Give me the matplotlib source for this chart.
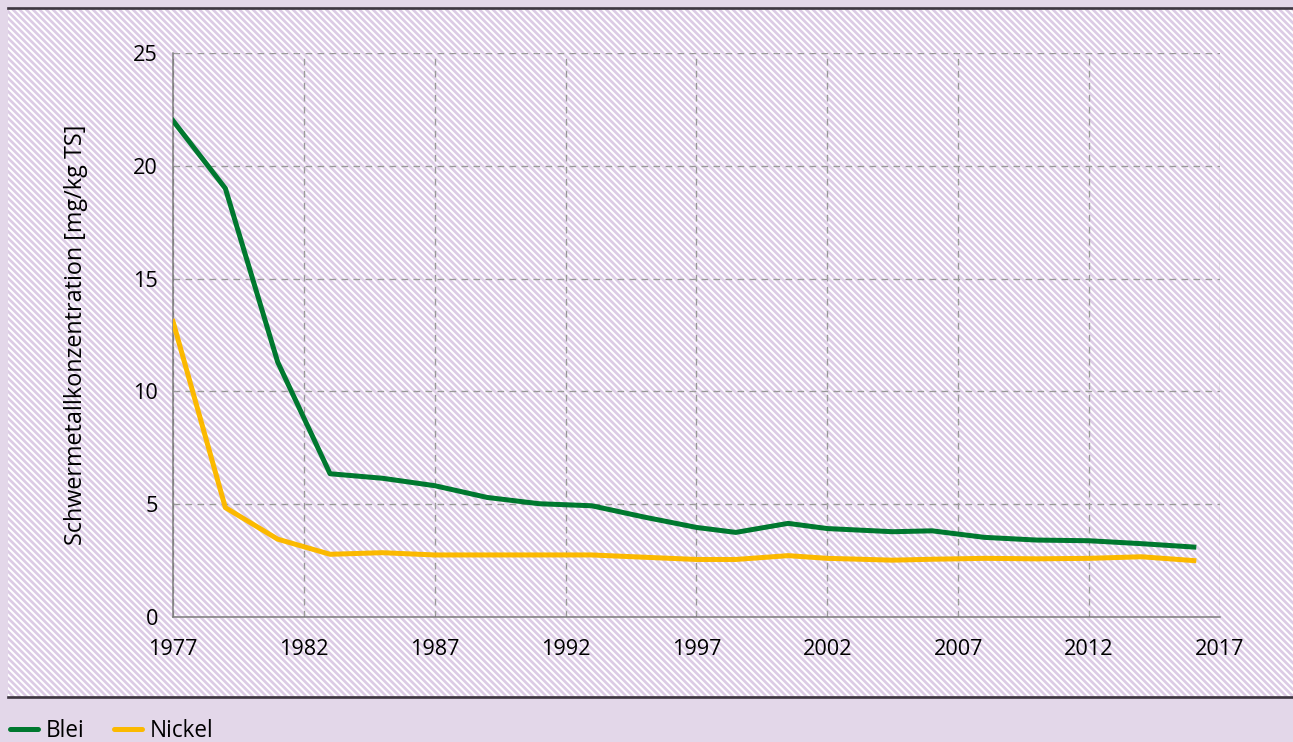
"""
Schwermetallkonzentration (Blei, Nickel) 1977-2016.
"""

import matplotlib
matplotlib.use('Agg')
import matplotlib.pyplot as plt
from matplotlib.patches import Rectangle
from matplotlib.lines import Line2D

# Dades llegides del gràfic
years = [1977, 1979, 1981, 1983, 1985, 1987, 1989, 1991, 1993, 1995, 1997,
         1998.5, 2000.5, 2002, 2004.5, 2006, 2008, 2010, 2012, 2014, 2016]
blei = [22.0, 19.0, 11.3, 6.35, 6.15, 5.82, 5.3, 5.02, 4.93, 4.43, 3.97,
        3.75, 4.15, 3.92, 3.78, 3.82, 3.53, 3.41, 3.38, 3.25, 3.1]
nickel = [13.1, 4.85, 3.45, 2.78, 2.85, 2.75, 2.75, 2.75, 2.75, 2.65, 2.55,
          2.55, 2.72, 2.6, 2.52, 2.56, 2.6, 2.58, 2.6, 2.67, 2.5]
x_ticks = [1977, 1982, 1987, 1992, 1997, 2002, 2007, 2012, 2017]
y_ticks = [0, 5, 10, 15, 20, 25]

GREEN = '#00782f'
YELLOW = '#fbb900'
BG = '#e3d7e9'

W, H, DPI = 1293, 742, 120
plt.rcParams['font.family'] = ['Open Sans', 'DejaVu Sans']
plt.rcParams['hatch.linewidth'] = 1.2
plt.rcParams['hatch.color'] = 'white'

fig = plt.figure(figsize=(W / DPI, H / DPI), dpi=DPI)
fig.patch.set_facecolor(BG)

# Fons ratllat
hatch_bg = Rectangle((8 / W, 1 - 697 / H), 1 - 8 / W, (697 - 8) / H,
                     transform=fig.transFigure, facecolor='#dccbe5',
                     edgecolor='white', hatch='\\' * 6, linewidth=0, zorder=-5)
fig.patches.append(hatch_bg)
for yy in (8, 697):
    fig.add_artist(Line2D([8 / W, 1], [1 - yy / H, 1 - yy / H],
                          transform=fig.transFigure, color='#3d3540', lw=1.6,
                          zorder=-4))

ax = fig.add_axes([173 / W, 1 - 617 / H, (1220 - 173) / W, (617 - 53) / H])
ax.set_facecolor('none')
ax.set_zorder(2)

ax.plot(years, blei, color=GREEN, lw=3.0, solid_joinstyle='round', zorder=3)
ax.plot(years, nickel, color=YELLOW, lw=3.0, solid_joinstyle='round', zorder=3)

ax.set_xlim(1977, 2017)
ax.set_ylim(0, 25)
ax.set_xticks(x_ticks)
ax.set_yticks(y_ticks)
ax.tick_params(length=0, labelsize=13, pad=9, labelcolor='black')
ax.tick_params(axis='x', pad=13)

ax.grid(True, color='#9a9a9a', linestyle=(0, (5, 4)), lw=0.8, zorder=1)
for side in ('top', 'right'):
    ax.spines[side].set_visible(False)
for side in ('left', 'bottom'):
    ax.spines[side].set_color('#7a7a7a')
    ax.spines[side].set_linewidth(0.9)
ax.set_axisbelow(True)

ax.set_ylabel('Schwermetallkonzentration [mg/kg TS]', fontsize=14, labelpad=27)

# Llegenda a la banda inferior
handles = [Line2D([], [], color=GREEN, lw=3.0, solid_capstyle='round'),
           Line2D([], [], color=YELLOW, lw=3.0, solid_capstyle='round')]
fig.legend(handles, ['Blei', 'Nickel'], loc='center left',
           bbox_to_anchor=(10 / W, 1 - 731 / H), ncol=2, frameon=False,
           fontsize=13.5, handlelength=1.25, handletextpad=0.35,
           columnspacing=1.3, borderaxespad=0.0, borderpad=0.0)

fig.savefig('out.png', dpi=DPI, facecolor=BG)
